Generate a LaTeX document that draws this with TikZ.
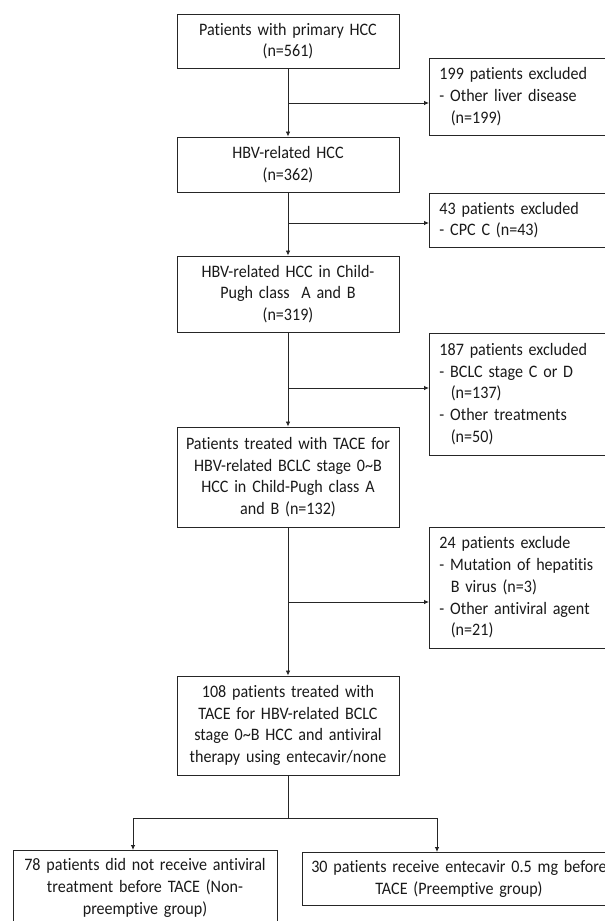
\documentclass[tikz,border=0pt]{standalone}
\usepackage{fontspec}
\setmainfont{Carlito}[FakeStretch=0.92, Ligatures={NoCommon}]
\usepackage{tikz}
\usetikzlibrary{arrows.meta}
\newcommand{\mainWidth}{222}
\newcommand{\mainText}{218pt}
\newcommand{\exclText}{175pt}
\newcommand{\mainX}{288}
\newcommand{\exclX}{429}
\newcommand{\indentN}{\hspace*{0.65em}}

\begin{document}
\begin{tikzpicture}[x=1pt, y=-1pt,
  every node/.style={font=\fontsize{17.5}{21.7}\selectfont, text=black!90},
  box/.style={draw=black!85, line width=0.9pt, inner sep=0pt, minimum width=\mainWidth pt,
    text width=\mainText, align=center},
  exclbox/.style={draw=black!85, line width=0.9pt, anchor=west, inner xsep=10pt, inner ysep=0pt,
    text width=\exclText, align=left},
  arr/.style={-{Latex[length=5pt,width=4.5pt]}, line width=0.8pt, draw=black!85},
  line/.style={line width=0.8pt, draw=black!85}]
\useasboundingbox (0,0) rectangle (605,921);

% main column
\node (b1) [box, minimum height=54pt] at (\mainX,41) {Patients with primary HCC\\(n=561)};
\node (b2) [box, minimum height=55pt] at (\mainX,164.5) {HBV-related HCC\\(n=362)};
\node (b3) [box, minimum height=76pt] at (\mainX,294) {HBV-related HCC in Child-\\Pugh class~ A and B\\(n=319)};
\node (b4) [box, minimum height=100pt] at (\mainX,477) {Patients treated with TACE for\\HBV-related BCLC stage 0\textasciitilde B\\HCC in Child-Pugh class A\\and B (n=132)};
\node (b5) [box, minimum height=99pt] at (\mainX,725.5) {108 patients treated with\\TACE for HBV-related BCLC\\stage 0\textasciitilde B HCC and antiviral\\therapy using entecavir/none};

% excluded
\node (e1) [exclbox, minimum height=77pt] at (\exclX,96.5) {199 patients excluded\\- Other liver disease\\\indentN(n=199)};
\node (e2) [exclbox, minimum height=54pt] at (\exclX,220) {43 patients excluded\\- CPC C (n=43)};
\node (e3) [exclbox, minimum height=122pt] at (\exclX,394) {187 patients excluded\\- BCLC stage C or D\\\indentN(n=137)\\- Other treatments\\\indentN(n=50)};
\node (e4) [exclbox, minimum height=121pt] at (\exclX,587.5) {24 patients exclude\\- Mutation of hepatitis\\\indentN B virus (n=3)\\- Other antiviral agent\\\indentN(n=21)};

% groups
\node (g1) [box, anchor=north, minimum width=264pt, text width=256pt, minimum height=75pt] at (145,850) {78 patients did not receive antiviral\\treatment before TACE (Non-\\preemptive group)};
\node (g2) [box, anchor=north, minimum width=314pt, text width=306pt, minimum height=53pt] at (459,852) {30 patients receive entecavir 0.5 mg before\\TACE (Preemptive group)};

\draw[arr] (b1) -- (b2);
\draw[arr] (b2) -- (b3);
\draw[arr] (b3) -- (b4);
\draw[arr] (b4) -- (b5);

\coordinate (c1) at (\mainX,103);
\coordinate (c2) at (\mainX,223);
\coordinate (c3) at (\mainX,388);
\coordinate (c4) at (\mainX,602);
\draw[arr] (c1) -- (c1 -| e1.west);
\draw[arr] (c2) -- (c2 -| e2.west);
\draw[arr] (c3) -- (c3 -| e3.west);
\draw[arr] (c4) -- (c4 -| e4.west);

\coordinate (fork) at (\mainX,818);
\coordinate (forkL) at (133,818);
\coordinate (forkR) at (437,818);
\draw[line] (b5.south) -- (fork);
\draw[line] (forkL) -- (forkR);
\draw[arr] (forkL) -- (forkL |- g1.north);
\draw[arr] (forkR) -- (forkR |- g2.north);
\end{tikzpicture}
\end{document}
